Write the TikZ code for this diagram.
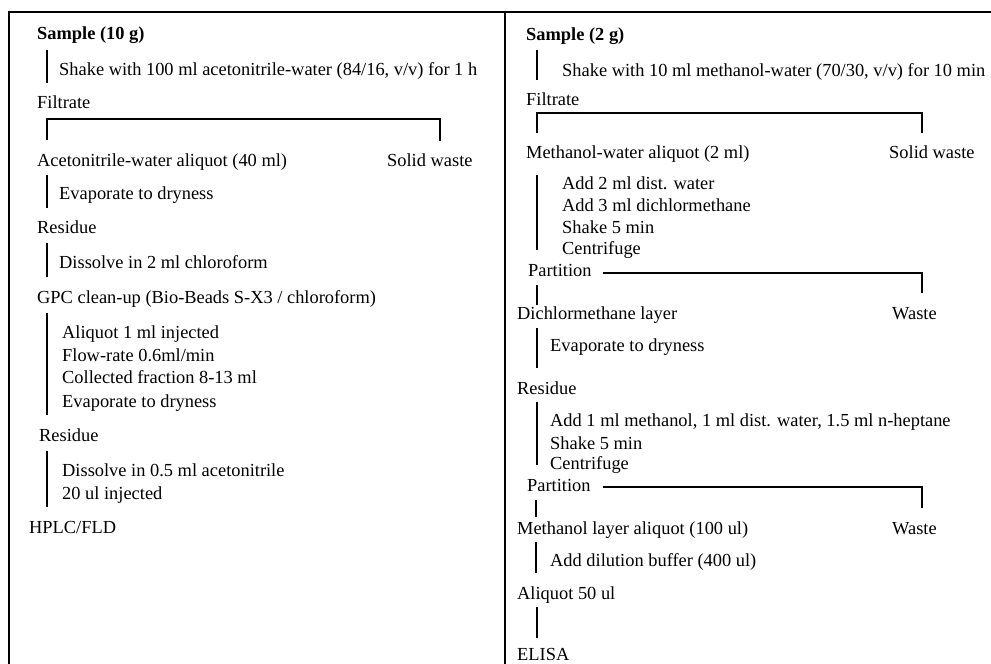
\documentclass[tikz,border=0pt]{standalone}
\usepackage{fontspec}
\setmainfont{Liberation Serif}
\begin{document}
\begin{tikzpicture}[x=1pt,y=-1pt,
  txt/.style={anchor=base west, inner sep=0pt, font=\fontsize{18.4}{22}\selectfont},
  ttl/.style={txt, font=\fontsize{18.4}{22}\selectfont\bfseries},
  frame/.style={line width=1.5pt},
  bar/.style={line width=1.2pt},
  link/.style={line width=1.1pt}]
\useasboundingbox (0,0) rectangle (991,664);
% frame
\draw[frame] (9,664) -- (9,12) -- (991,12);
\draw[frame] (505,12) -- (505,664);

% ---------- left panel ----------
\node[ttl] (sampleL) at (37,39) {Sample (10 g)};
\draw[bar] (47,50) -- (47,83);
\node[txt] (shakeL) at (59,75) {Shake with 100 ml acetonitrile-water (84/16, v/v) for 1 h};
\node[txt] (filtL) at (37,108) {Filtrate};
\draw[link] (47,140) -- (47,119) -- (440,119) -- (440,141);
\node[txt] (acetL) at (37,166) {Acetonitrile-water aliquot (40 ml)};
\node[txt] (solidL) at (387,166) {Solid waste};
\draw[bar] (47,175) -- (47,208);
\node[txt] (evapL) at (59,199) {Evaporate to dryness};
\node[txt] (resL1) at (37,233) {Residue};
\draw[bar] (47,243) -- (47,277);
\node[txt] (dissL) at (59,268) {Dissolve in 2 ml chloroform};
\node[txt] (gpcL) at (37,303) {GPC clean-up (Bio-Beads S-X3 / chloroform)};
\draw[bar] (47,313) -- (47,415);
\node[txt] (aliqL) at (62,338) {Aliquot 1 ml injected};
\node[txt] (flowL) at (62,361) {Flow-rate 0.6ml/min};
\node[txt] (collL) at (62,383) {Collected fraction 8-13 ml};
\node[txt] (evap2L) at (62,407) {Evaporate to dryness};
\node[txt] (resL2) at (39,441) {Residue};
\draw[bar] (47,451) -- (47,507);
\node[txt] (diss2L) at (62,476) {Dissolve in 0.5 ml acetonitrile};
\node[txt] (injL) at (62,499) {20 ul injected};
\node[txt] (hplc) at (29,533) {HPLC/FLD};

% ---------- right panel ----------
\node[ttl] (sampleR) at (526,40) {Sample (2 g)};
\draw[bar] (537,50) -- (537,80);
\node[txt] (shakeR) at (562,76) {Shake with 10 ml methanol-water (70/30, v/v) for 10 min};
\node[txt] (filtR) at (526,105) {Filtrate};
\draw[link] (537,133) -- (537,113) -- (922,113) -- (922,133);
\node[txt] (methR) at (526,158) {Methanol-water aliquot (2 ml)};
\node[txt] (solidR) at (889,158) {Solid waste};
\draw[bar] (537,175) -- (537,250);
\node[txt] (add2) at (562,189) {Add 2 ml dist. water};
\node[txt] (add3) at (562,211) {Add 3 ml dichlormethane};
\node[txt] (shk5) at (562,233) {Shake 5 min};
\node[txt] (cent1) at (562,254) {Centrifuge};
\node[txt] (part1) at (528,276) {Partition};
\draw[link] (603,273) -- (922,273) -- (922,293);
\draw[bar] (537,285) -- (537,305);
\node[txt] (dichl) at (517,319) {Dichlormethane layer};
\node[txt] (waste1) at (892,319) {Waste};
\draw[bar] (537,328) -- (537,368);
\node[txt] (evapR) at (550,351) {Evaporate to dryness};
\node[txt] (resR) at (517,394) {Residue};
\draw[bar] (537,402) -- (537,465);
\node[txt] (add1) at (550,426) {Add 1 ml methanol, 1 ml dist. water, 1.5 ml n-heptane};
\node[txt] (shk5b) at (550,449) {Shake 5 min};
\node[txt] (cent2) at (550,469) {Centrifuge};
\node[txt] (part2) at (527,491) {Partition};
\draw[link] (603,487) -- (922,487) -- (922,508);
\draw[bar] (536,500) -- (536,517);
\node[txt] (methl) at (517,534) {Methanol layer aliquot (100 ul)};
\node[txt] (waste2) at (892,534) {Waste};
\draw[bar] (536,542) -- (536,573);
\node[txt] (dil) at (550,566) {Add dilution buffer (400 ul)};
\node[txt] (aliq50) at (517,599) {Aliquot 50 ul};
\draw[bar] (537,607) -- (537,638);
\node[txt] (elisa) at (517,660) {ELISA};
\end{tikzpicture}
\end{document}
